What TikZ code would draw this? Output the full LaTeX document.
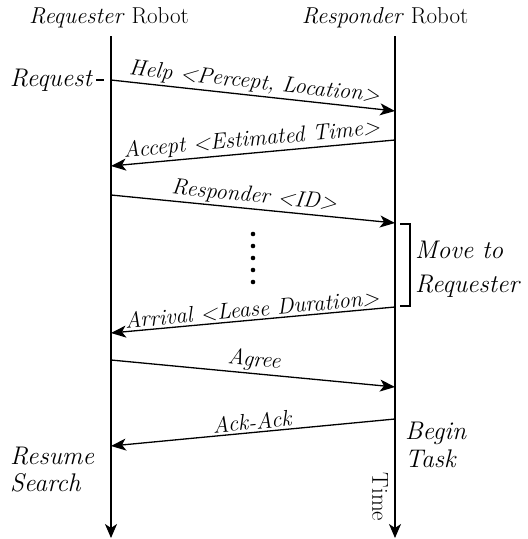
\documentclass[tikz,border=0pt]{standalone}
\usepackage{fontspec}
\usetikzlibrary{arrows.meta}
\begin{document}
\begin{tikzpicture}[x=1pt,y=-1pt,
  lifeline/.style={line width=1.6pt,-{Stealth[length=14pt,width=12pt,inset=4pt]}},
  msg/.style={line width=1.3pt,-{Stealth[length=15pt,width=12pt,inset=4pt]}},
  msglabel/.style={font=\fontsize{22.5}{26}\selectfont\itshape,midway,above,sloped,inner sep=2pt},
  side/.style={font=\fontsize{25.5}{29}\selectfont\itshape,inner sep=0pt},
  title/.style={font=\fontsize{23}{26}\selectfont,inner sep=0pt}]
\useasboundingbox (0,0) rectangle (528,539);

% participants
\node[title] (reqT) at (109,18) {\textit{Requester} Robot};
\node[title] (resT) at (385,18) {\textit{Responder} Robot};

% lifelines
\coordinate (LT) at (111,36);
\coordinate (LB) at (111,538);
\coordinate (RT) at (395,36);
\coordinate (RB) at (395,538);
\draw[lifeline] (LT) -- (LB);
\draw[lifeline] (RT) -- (RB);

% message endpoints
\coordinate (m1a) at (111,80);  \coordinate (m1b) at (395,111);
\coordinate (m2a) at (395,140); \coordinate (m2b) at (111,166);
\coordinate (m3a) at (111,195); \coordinate (m3b) at (395,223);
\coordinate (m4a) at (395,307); \coordinate (m4b) at (111,333);
\coordinate (m5a) at (111,360); \coordinate (m5b) at (395,387);
\coordinate (m6a) at (395,419); \coordinate (m6b) at (111,446);

\draw[msg] (m1a) -- node[msglabel] {Help <Percept, Location>} (m1b);
\draw[msg] (m2a) -- node[msglabel] {Accept <Estimated Time>} (m2b);
\draw[msg] (m3a) -- node[msglabel] {Responder <ID>} (m3b);
\draw[msg] (m4a) -- node[msglabel] {Arrival <Lease Duration>} (m4b);
\draw[msg] (m5a) -- node[msglabel] {Agree} (m5b);
\draw[msg] (m6a) -- node[msglabel] {Ack-Ack} (m6b);

% ellipsis between messages
\foreach \yy in {234,246,258,270,282}
  \fill (253,\yy) circle (2.3pt);

% bracket for the travel phase
\coordinate (b1) at (400,224);
\coordinate (b2) at (410,224);
\coordinate (b3) at (410,306);
\coordinate (b4) at (400,306);
\draw[line width=1.5pt] (b1) -- (b2) -- (b3) -- (b4);
\node[side,anchor=west] (move) at (415,250) {Move to};
\node[side,anchor=west] (moveb) at (415,286) {Requester};

% side annotations
\node[side,anchor=east] (req) at (92,80) {Request};
\draw[line width=1.8pt] (96,80) -- (104,80);
\node[side,anchor=west] (res1) at (10,456) {Resume};
\node[side,anchor=west] (res2) at (10,483) {Search};
\node[side,anchor=west] (beg1) at (405,433) {Begin};
\node[side,anchor=west] (beg2) at (405,459) {Task};
\node[title,rotate=-90] (time) at (380,497) {Time};
\end{tikzpicture}
\end{document}
